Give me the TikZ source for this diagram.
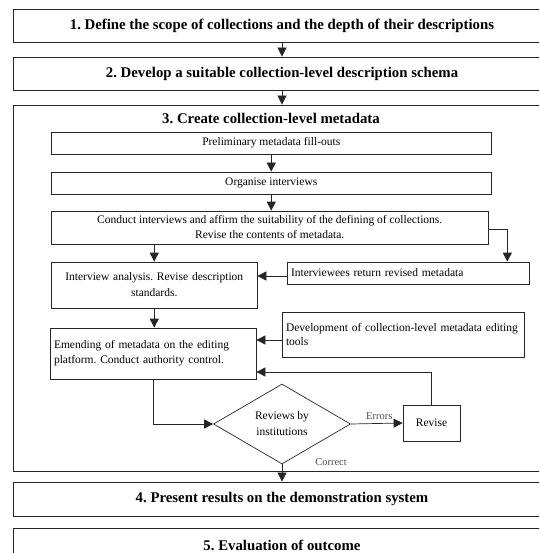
\documentclass[tikz,border=0pt]{standalone}
\usepackage{fontspec}
\setmainfont{Liberation Serif}
\usetikzlibrary{shapes.geometric,arrows.meta}
\frenchspacing
\begin{document}
\begin{tikzpicture}[x=1pt,y=-1pt,
  outerbox/.style={draw=black!85,line width=0.8pt,minimum width=538pt,inner sep=0pt,font=\fontsize{14.8}{18}\selectfont\bfseries},
  ibox/.style={draw=black!85,line width=0.7pt,inner sep=0pt,font=\fontsize{11.5}{15}\selectfont,align=center},
  lbox/.style={draw=black!85,line width=0.7pt,inner xsep=4pt,inner ysep=0pt,font=\fontsize{11.5}{15}\selectfont,align=left},
  arr/.style={draw=black!85,line width=0.7pt,-{Triangle[length=9pt,width=9pt]}},
  lab/.style={font=\fontsize{10.5}{12}\selectfont,text=black!70,inner sep=1pt}]
\useasboundingbox (0,0) rectangle (539,553);
\begin{scope}
\clip (0,0) rectangle (539,553);
% outer stages
\node[outerbox,minimum height=32.5pt] (b1) at (282,25.75) {1. Define the scope of collections and the depth of their descriptions};
\node[outerbox,minimum height=33pt] (b2) at (282,73.5) {2. Develop a suitable collection-level description schema};
\node[outerbox,minimum height=366pt] (b3) at (282,288) {};
\node[font=\fontsize{14.8}{18}\selectfont\bfseries,inner sep=0pt] (t3) at (271,118.5) {3. Create collection-level metadata};
\node[outerbox,minimum height=34pt] (b4) at (282,499) {4. Present results on the demonstration system};
\node[outerbox,minimum height=34pt] (b5) at (282,545) {5. Evaluation of outcome};
\end{scope}
% inner steps
\node[ibox,minimum width=439.5pt,minimum height=22pt] (pre) at (271.25,143) {Preliminary metadata fill-outs};
\node[ibox,minimum width=439.5pt,minimum height=22pt] (org) at (271.25,183) {Organise interviews};
\node[ibox,minimum width=436.5pt,minimum height=33pt] (con) at (269.75,227.5) {Conduct interviews and affirm the suitability of the defining of collections.\\Revise the contents of metadata.};
\node[ibox,text width=205.5pt,minimum height=46pt,font=\fontsize{11.5}{16}\selectfont] (ana) at (154.25,285) {Interview analysis. Revise description\\standards.};
\node[lbox,text width=234pt,minimum height=22pt] (ivw) at (408,273) {Interviewees return revised metadata};
\node[lbox,text width=234pt,minimum height=45pt,font=\fontsize{11.5}{14}\selectfont] (dev) at (403,334.5) {Development of collection-level metadata editing\\tools};
\node[lbox,text width=198pt,minimum height=51pt] (emd) at (153,353.5) {Emending of metadata on the editing\\platform. Conduct authority control.};
\node[diamond,draw=black!85,line width=0.7pt,aspect=1.7,inner sep=0pt,minimum width=137pt,minimum height=80pt,align=center,font=\fontsize{11.5}{16}\selectfont] (dia) at (282,424) {Reviews by\\institutions};
\node[ibox,minimum width=57pt,minimum height=36pt] (rev) at (431.5,423) {Revise};
% connectors
\draw[arr] (b1.south) -- (b2.north);
\draw[arr] (b2.south) -- (b3.north);
\draw[arr] (pre.south) -- (org.north);
\draw[arr] (org.south) -- (org.south |- con.north);
\draw[arr] (con.south -| ana.north) -- (ana.north);
\draw[arr] ([yshift=-1.5pt]con.east) -| ([xshift=-22pt]ivw.north east);
\draw[arr] ([yshift=-3pt]ivw.west) -- ([yshift=-3pt]ivw.west -| ana.east);
\draw[arr] (ana.south) -- (ana.south |- emd.north);
\draw[arr] ([yshift=-5.5pt]dev.west) -- ([yshift=-5.5pt]dev.west -| emd.east);
\draw[arr] (rev.north) |- ([yshift=-18.5pt]emd.east);
\draw[arr] (emd.south) |- (dia.west);
\draw[arr] (dia.east) -- (rev.west) node[lab,pos=0.55,above=3pt] (err) {Errors};
\draw[arr] (dia.south) -- (b4.north);
\node[lab] (cor) at (331,462) {Correct};
\end{tikzpicture}
\end{document}
